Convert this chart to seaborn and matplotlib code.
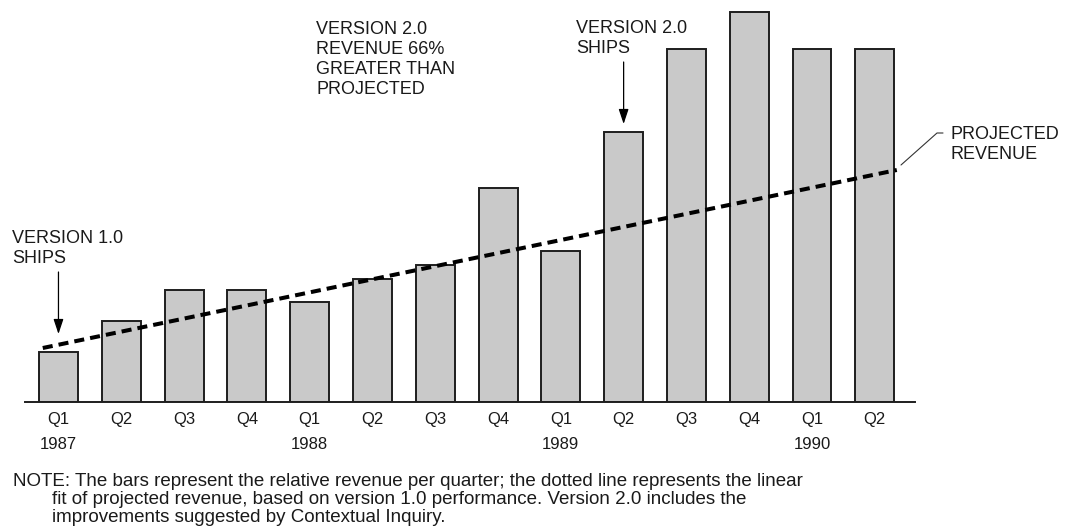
import matplotlib
matplotlib.use("Agg")
import matplotlib.pyplot as plt
from matplotlib.lines import Line2D
import seaborn as sns
import pandas as pd

# Quarterly relative revenue, Q1 1987 through Q2 1990
quarters = ["Q1", "Q2", "Q3", "Q4", "Q1", "Q2", "Q3", "Q4",
            "Q1", "Q2", "Q3", "Q4", "Q1", "Q2"]
years = ["1987", "", "", "", "1988", "", "", "", "1989", "", "", "", "1990", ""]
revenue = [50, 81, 112, 112, 100, 123, 137, 214, 151, 270, 353, 390, 353, 353]

# Linear fit of projected revenue (quarter index, revenue) at its two ends
projected_pos = [-0.25, 13.35]
projected_rev = [54, 232]

sns.set_style("white")
plt.rcParams["font.family"] = ["Liberation Sans", "DejaVu Sans"]

W, H = 1065, 528
fig = plt.figure(figsize=(W / 100, H / 100), dpi=100)
fig.patch.set_facecolor("white")


def fx(px):
    return px / W


def fy(py):
    return 1 - py / H


ax = fig.add_axes([fx(25), fy(402), (915 - 25) / W, 402 / H])

period = [f"{y}-{q}" for y, q in zip(
    ["1987"] * 4 + ["1988"] * 4 + ["1989"] * 4 + ["1990"] * 2, quarters)]
df = pd.DataFrame({"period": period, "revenue": revenue})

sns.barplot(data=df, x="period", y="revenue", order=period, color="#c9c9c9",
            saturation=1, width=0.62, edgecolor="#1e1e1e", linewidth=1.4, ax=ax)

ax.plot(projected_pos, projected_rev, color="black", lw=2.9,
        linestyle=(0, (2.5, 1.5)), solid_capstyle="butt", dash_capstyle="butt")

ax.set_xlim(-0.533, 13.64)
ax.set_ylim(0, 402)
ax.set_xlabel("")
ax.set_ylabel("")
ax.set_yticks([])
ax.set_xticks(range(len(quarters)))
ax.set_xticklabels([f"{q}\n{y}" for q, y in zip(quarters, years)],
                   fontsize=12, linespacing=1.87)
ax.tick_params(axis="x", length=0, pad=7, colors="#1a1a1a")
for side in ["top", "right", "left"]:
    ax.spines[side].set_visible(False)
ax.spines["bottom"].set_linewidth(1.4)
ax.spines["bottom"].set_color("#1e1e1e")
ax.set_facecolor("none")

arrow_kw = dict(arrowstyle="-|>,head_length=0.9,head_width=0.3",
                mutation_scale=10, color="black", lw=0.9,
                shrinkA=0, shrinkB=0)

# Version 1.0 ships arrow above the first quarter
ax.annotate("", xy=(0, revenue[0] + 18), xytext=(0, revenue[0] + 80),
            arrowprops=arrow_kw)
# Version 2.0 ships arrow above Q2 1989
ax.annotate("", xy=(9, revenue[9] + 8), xytext=(9, revenue[9] + 70),
            arrowprops=arrow_kw)

# Multi-line labels are anchored on the baseline of their last line
txt_kw = dict(fontsize=13, color="#1a1a1a", va="baseline", ha="left",
              linespacing=1.22)
fig.text(fx(12), fy(263), "VERSION 1.0\nSHIPS", **txt_kw)
fig.text(fx(316), fy(94), "VERSION 2.0\nREVENUE 66%\nGREATER THAN\nPROJECTED",
         **txt_kw)
fig.text(fx(576), fy(53), "VERSION 2.0\nSHIPS", **txt_kw)
fig.text(fx(950), fy(159), "PROJECTED\nREVENUE", **txt_kw)

# Leader from the end of the projection to its label
fig.add_artist(Line2D([fx(901), fx(937), fx(943)], [fy(165), fy(133), fy(133)],
                      transform=fig.transFigure, color="#333333", lw=0.8))

note_kw = dict(fontsize=13.5, color="#1a1a1a", va="baseline", ha="left")
fig.text(fx(13), fy(486),
         "NOTE: The bars represent the relative revenue per quarter; "
         "the dotted line represents the linear", **note_kw)
fig.text(fx(52), fy(504),
         "fit of projected revenue, based on version 1.0 performance. "
         "Version 2.0 includes the", **note_kw)
fig.text(fx(52), fy(522),
         "improvements suggested by Contextual Inquiry.", **note_kw)

fig.savefig("out.png", dpi=100)
